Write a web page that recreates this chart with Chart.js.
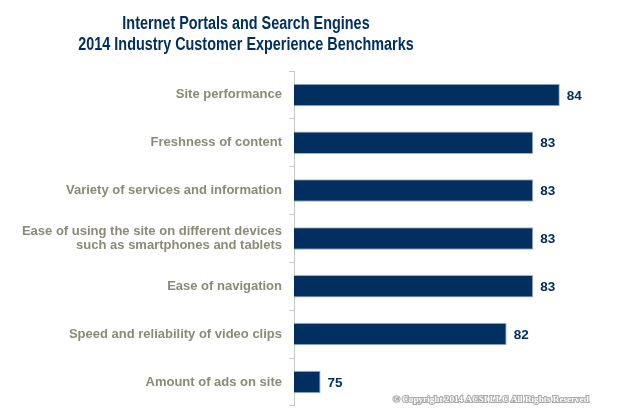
<!DOCTYPE html>
<html>
<head>
<meta charset="utf-8">
<script src="https://cdn.jsdelivr.net/npm/chart.js@4/dist/chart.umd.min.js"></script>
<style>
  html, body { margin: 0; padding: 0; background: #fff; }
  #wrap { width: 624px; height: 420px; }
</style>
</head>
<body>
<div id="wrap"><canvas id="chart" width="624" height="420"></canvas></div>
<script>
const categories = [
  'Site performance',
  'Freshness of content',
  'Variety of services and information',
  ['Ease of using the site on different devices', 'such as smartphones and tablets'],
  'Ease of navigation',
  'Speed and reliability of video clips',
  'Amount of ads on site'
];
const scores = [84, 83, 83, 83, 83, 82, 75];
const titleLines = ['Internet Portals and Search Engines', '2014 Industry Customer Experience Benchmarks'];
const copyright = '\u00A9 Copyright 2014 ACSI LLC All Rights Reserved';

const navy = '#012f60';

// title, value labels and copyright line
const extras = {
  id: 'extras',
  afterDatasetsDraw(chart) {
    const ctx = chart.ctx;
    ctx.save();
    ctx.fillStyle = navy;
    ctx.textAlign = 'center';
    ctx.textBaseline = 'middle';
    // condensed look for the title
    ctx.save();
    ctx.translate(246, 0);
    ctx.scale(0.8, 1);
    ctx.font = 'bold 18px "Liberation Sans", Arial, sans-serif';
    ctx.fillText(titleLines[0], 0, 24);
    ctx.fillText(titleLines[1], 0, 45);
    ctx.restore();

    ctx.font = 'bold 13.5px "Liberation Sans", Arial, sans-serif';
    ctx.textAlign = 'left';
    const meta = chart.getDatasetMeta(0);
    meta.data.forEach((bar, i) => {
      ctx.fillText(scores[i], bar.x + 7, bar.y + 1);
    });

    ctx.font = 'bold 9.2px "Liberation Serif", "Times New Roman", serif';
    ctx.lineWidth = 2;
    ctx.strokeStyle = '#a9a9a9';
    ctx.strokeText(copyright, 393, 400);
    ctx.fillStyle = '#ffffff';
    ctx.fillText(copyright, 393, 400);
    ctx.restore();
  }
};

new Chart(document.getElementById('chart'), {
  type: 'bar',
  data: {
    labels: categories,
    datasets: [{
      data: scores,
      backgroundColor: navy,
      borderColor: '#9fb3c9',
      borderWidth: 1,
      barPercentage: 0.47,
      categoryPercentage: 1
    }]
  },
  options: {
    indexAxis: 'y',
    responsive: false,
    animation: false,
    layout: { padding: { top: 71, bottom: 14, right: 11, left: 0 } },
    plugins: {
      legend: { display: false },
      tooltip: { enabled: false }
    },
    scales: {
      x: {
        display: false,
        min: 74,
        max: 86
      },
      y: {
        afterFit(scale) { scale.width = 294; },
        grid: {
          offset: true,
          drawOnChartArea: false,
          tickLength: 5,
          color: '#c6c6c6'
        },
        border: { color: '#c6c6c6', width: 1 },
        ticks: {
          padding: 7,
          color: '#8a8a76',
          font: { family: '"Liberation Sans", Arial, sans-serif', size: 13, weight: 'bold', lineHeight: 1.1 }
        }
      }
    }
  },
  plugins: [extras]
});
</script>
</body>
</html>
